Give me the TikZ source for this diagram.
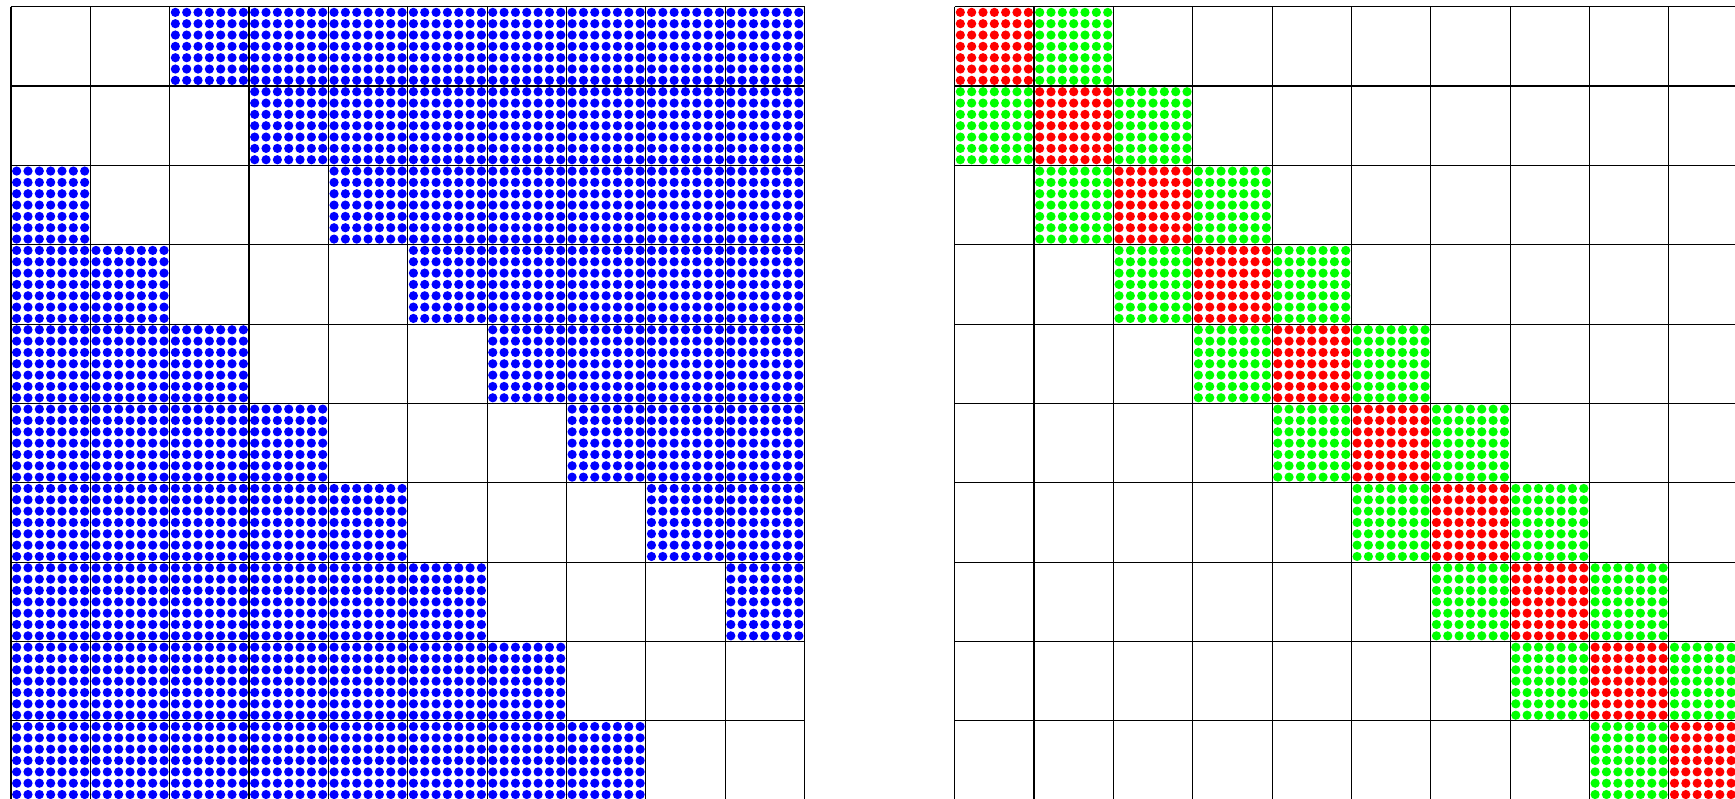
\documentclass[tikz,border=0pt]{standalone}
\definecolor{dotblue}{RGB}{0,0,255}
\definecolor{dotred}{RGB}{255,0,0}
\definecolor{dotgreen}{RGB}{0,255,0}
\tikzset{
  gridline/.style={draw=black, line width=0.4pt},
}
\begin{document}
\begin{tikzpicture}[x=1cm,y=-1cm]
\useasboundingbox (0,0) rectangle (21.865,10.069);
\clip (0,0) rectangle (21.865,10.069);
\def\Lx{0.1386}
\def\Ty{0.0844}
\def\Rx{12.031}
\def\R{0.58mm}
% dots
\foreach \i in {0,...,9}{
  \foreach \j in {0,...,9}{
    \pgfmathtruncatemacro\d{abs(\i-\j)}
    \ifnum\d>1
      \fill[dotblue] \foreach \a in {0,...,6}{\foreach \b in {0,...,6}{
        ({\Lx+\j+(\a+0.5)/7},{\Ty+\i+(\b+0.5)/7}) circle[radius=\R]}};
    \fi
    \ifnum\d=0
      \fill[dotred] \foreach \a in {0,...,6}{\foreach \b in {0,...,6}{
        ({\Rx+\j+(\a+0.5)/7},{\Ty+\i+(\b+0.5)/7}) circle[radius=\R]}};
    \fi
    \ifnum\d=1
      \fill[dotgreen] \foreach \a in {0,...,6}{\foreach \b in {0,...,6}{
        ({\Rx+\j+(\a+0.5)/7},{\Ty+\i+(\b+0.5)/7}) circle[radius=\R]}};
    \fi
  }
}
% grids
\foreach \k in {0,...,10}{
  \draw[gridline] ({\Lx+\k},\Ty) -- ({\Lx+\k},{\Ty+10});
  \draw[gridline] (\Lx,{\Ty+\k}) -- ({\Lx+10},{\Ty+\k});
  \draw[gridline] ({\Rx+\k},\Ty) -- ({\Rx+\k},{\Ty+10});
  \draw[gridline] (\Rx,{\Ty+\k}) -- ({\Rx+10},{\Ty+\k});
}
\end{tikzpicture}
\end{document}
